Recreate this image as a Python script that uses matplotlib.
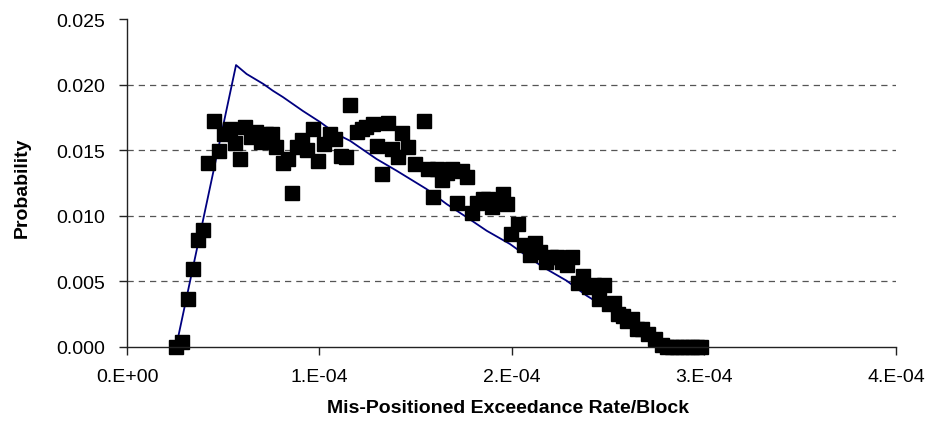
import matplotlib.pyplot as plt
from matplotlib.ticker import FixedLocator

plt.rcParams['font.family'] = ['Liberation Sans', 'DejaVu Sans']

# observed points (x in exceedance rate/block, y probability)
obs_x = [0.255e-4, 0.286e-4, 0.317e-4, 0.343e-4, 0.369e-4, 0.395e-4, 0.421e-4, 0.452e-4,
         0.478e-4, 0.504e-4, 0.536e-4, 0.562e-4, 0.588e-4, 0.614e-4, 0.645e-4, 0.671e-4,
         0.697e-4, 0.723e-4, 0.754e-4, 0.775e-4, 0.811e-4, 0.837e-4, 0.858e-4, 0.884e-4,
         0.910e-4, 0.936e-4, 0.967e-4, 0.993e-4, 1.024e-4, 1.056e-4, 1.082e-4, 1.113e-4,
         1.139e-4, 1.160e-4, 1.196e-4, 1.222e-4, 1.243e-4, 1.279e-4, 1.300e-4, 1.326e-4,
         1.357e-4, 1.378e-4, 1.409e-4, 1.430e-4, 1.461e-4, 1.498e-4, 1.544e-4, 1.565e-4,
         1.591e-4, 1.612e-4, 1.638e-4, 1.664e-4, 1.690e-4, 1.716e-4, 1.742e-4, 1.768e-4,
         1.794e-4, 1.820e-4, 1.851e-4, 1.877e-4, 1.898e-4, 1.924e-4, 1.955e-4, 1.976e-4,
         1.997e-4, 2.033e-4, 2.064e-4, 2.096e-4, 2.122e-4, 2.148e-4, 2.179e-4, 2.205e-4,
         2.236e-4, 2.262e-4, 2.288e-4, 2.314e-4, 2.345e-4, 2.371e-4, 2.402e-4, 2.428e-4,
         2.454e-4, 2.480e-4, 2.506e-4, 2.532e-4, 2.553e-4, 2.579e-4, 2.600e-4, 2.626e-4,
         2.652e-4, 2.678e-4, 2.709e-4, 2.746e-4, 2.782e-4, 2.808e-4, 2.834e-4, 2.860e-4,
         2.886e-4, 2.912e-4, 2.938e-4, 2.964e-4, 2.985e-4]
obs_y = [0.0000, 0.00038, 0.00366, 0.00595, 0.00816, 0.00892, 0.01402, 0.01723,
         0.01494, 0.01623, 0.01662, 0.01555, 0.01433, 0.01677, 0.01601, 0.01639,
         0.01563, 0.01623, 0.01623, 0.01524, 0.01402, 0.01433, 0.01174, 0.01524,
         0.01578, 0.01502, 0.01662, 0.01418, 0.01547, 0.01623, 0.01585, 0.01456,
         0.01448, 0.01845, 0.01639, 0.01662, 0.01677, 0.01700, 0.01532, 0.01319,
         0.01707, 0.01509, 0.01448, 0.01631, 0.01524, 0.01395, 0.01723, 0.01357,
         0.01143, 0.01357, 0.01273, 0.01326, 0.01357, 0.01098, 0.01341, 0.01296,
         0.01021, 0.01098, 0.01128, 0.01128, 0.01067, 0.01120, 0.01166, 0.01090,
         0.00861, 0.00938, 0.00777, 0.00701, 0.00793, 0.00724, 0.00648, 0.00686,
         0.00686, 0.00648, 0.00625, 0.00686, 0.00488, 0.00541, 0.00457, 0.00473,
         0.00366, 0.00473, 0.00328, 0.00335, 0.00252, 0.00236, 0.00198, 0.00213,
         0.00137, 0.00137, 0.00099, 0.00061, 0.00015, 0.0, 0.0, 0.0,
         0.0, 0.0, 0.0, 0.0, 0.0]

# fitted curve
fit_x = [0.255e-4, 0.567e-4, 0.622e-4, 0.709e-4, 0.759e-4, 0.811e-4, 0.915e-4, 1.004e-4,
         1.090e-4, 1.160e-4, 1.298e-4, 1.402e-4, 1.558e-4, 1.662e-4, 1.767e-4, 1.871e-4,
         1.992e-4, 2.052e-4, 2.163e-4, 2.287e-4, 2.391e-4, 2.460e-4, 2.564e-4, 2.668e-4,
         2.772e-4, 2.980e-4]
fit_y = [0.0, 0.02149, 0.02081, 0.02005, 0.01953, 0.01905, 0.01799, 0.01715,
         0.01623, 0.01572, 0.01433, 0.01344, 0.01204, 0.01090, 0.00989, 0.00886,
         0.00785, 0.00722, 0.00610, 0.00505, 0.00391, 0.00328, 0.00229, 0.00122,
         0.0, 0.0]

x_ticks = [0, 1e-4, 2e-4, 3e-4, 4e-4]
x_labels = ['0.E+00', '1.E-04', '2.E-04', '3.E-04', '4.E-04']
y_ticks = [0.0, 0.005, 0.010, 0.015, 0.020, 0.025]

fig = plt.figure(figsize=(9.3, 4.39), dpi=100)
ax = fig.add_axes([0.1366, 0.2073, 0.8268, 0.7471])

# dashed gridlines (none on the axis or at the top)
for yv in y_ticks[1:-1]:
    ax.axhline(yv, color='#555555', lw=0.9, ls=(0, (5, 4)), zorder=1)

ax.plot(fit_x, fit_y, color='#000080', lw=1.3, zorder=2, clip_on=False)
ax.plot(obs_x, obs_y, 's', color='black', ms=9.5, zorder=3, clip_on=False)

ax.set_xlim(0, 4e-4)
ax.set_ylim(0, 0.025)
ax.xaxis.set_major_locator(FixedLocator(x_ticks))
ax.set_xticklabels(x_labels)
ax.set_yticks(y_ticks)
ax.set_yticklabels(['%.3f' % v for v in y_ticks])

for s in ['top', 'right']:
    ax.spines[s].set_visible(False)
for s in ['left', 'bottom']:
    ax.spines[s].set_color('#222222')
    ax.spines[s].set_linewidth(1.0)
ax.spines['bottom'].set_zorder(4)

ax.tick_params(axis='both', direction='out', length=6, width=1, color='#222222',
               labelsize=14)
ax.tick_params(axis='y', pad=10)
ax.tick_params(axis='x', pad=9)
ax.set_xlabel('Mis-Positioned Exceedance Rate/Block', fontsize=14, fontweight='bold')
ax.set_ylabel('Probability', fontsize=14, fontweight='bold')
ax.xaxis.set_label_coords(0.496, -0.16)
ax.yaxis.set_label_coords(-0.125, 0.49)

fig.savefig('out.png', dpi=100)
